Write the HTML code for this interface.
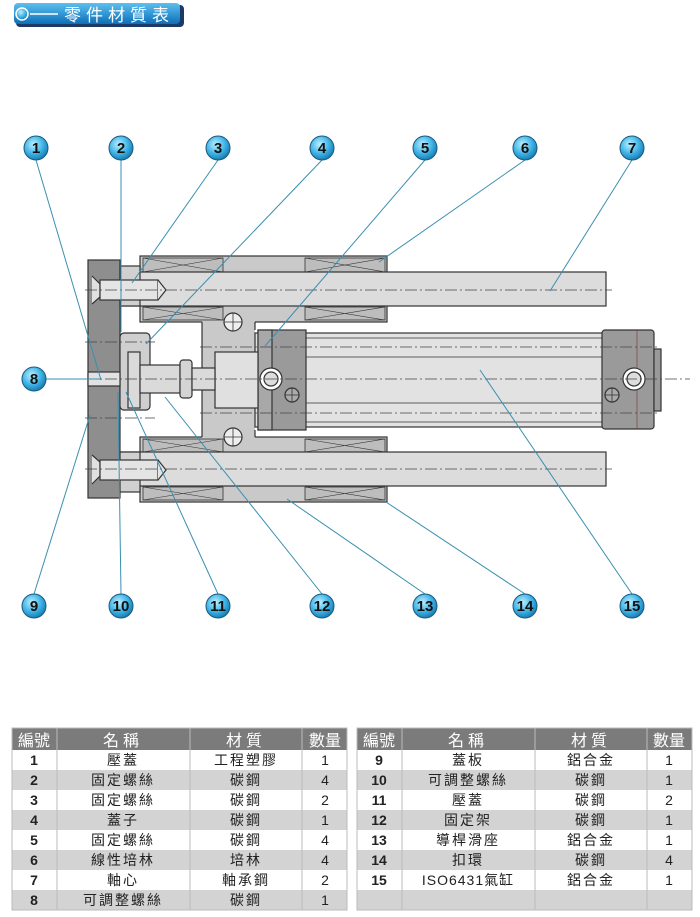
<!DOCTYPE html>
<html><head><meta charset="utf-8"><style>
html,body{margin:0;padding:0;background:#fff;}
svg{display:block;}
text{font-family:"Liberation Sans","Noto Sans CJK TC",sans-serif;}
</style></head><body>
<svg width="700" height="917" viewBox="0 0 700 917" xmlns="http://www.w3.org/2000/svg">
<defs>
<radialGradient id="bg" cx="40%" cy="35%" r="65%"><stop offset="0" stop-color="#bfefff"/><stop offset="0.6" stop-color="#3fb4e6"/><stop offset="1" stop-color="#1a7fb5"/></radialGradient>
<linearGradient id="hb" x1="0" y1="0" x2="0" y2="1"><stop offset="0" stop-color="#5cc0f0"/><stop offset="1" stop-color="#0d6fb8"/></linearGradient>
</defs>
<rect x="16" y="5" width="168" height="22" rx="4" fill="#1d3a66"/>
<rect x="14" y="3" width="166" height="21" rx="4" fill="url(#hb)"/>
<circle cx="22" cy="14" r="6" fill="url(#bg)" stroke="#fff" stroke-width="1.5"/>
<line x1="30" y1="14" x2="58" y2="14" stroke="#fff" stroke-width="1.5"/>
<text x="64" y="21" font-size="17" fill="#fff" letter-spacing="5">零件材質表</text>

<g stroke="#333" stroke-width="1.2">
<rect x="140" y="256" width="247" height="66" fill="#c9c9c9"/>
<rect x="140" y="437" width="247" height="65" fill="#c9c9c9"/>
<rect x="202" y="318" width="53" height="123" fill="#c9c9c9" stroke="none"/>
<line x1="202" y1="322" x2="202" y2="437"/><line x1="255" y1="322" x2="255" y2="330"/><line x1="255" y1="430" x2="255" y2="437"/>
<g fill="#bdbdbd" stroke-width="0.8">
<rect x="143" y="258" width="80" height="14"/><rect x="305" y="258" width="80" height="14"/>
<rect x="143" y="307" width="80" height="13"/><rect x="305" y="307" width="80" height="13"/>
<rect x="143" y="439" width="80" height="13"/><rect x="305" y="439" width="80" height="13"/>
<rect x="143" y="487" width="80" height="13"/><rect x="305" y="487" width="80" height="13"/>
</g>
<g stroke-width="0.6">
<path d="M143 258L223 272M143 272L223 258M305 258L385 272M305 272L385 258M143 307L223 320M143 320L223 307M305 307L385 320M305 320L385 307M143 439L223 452M143 452L223 439M305 439L385 452M305 452L385 439M143 487L223 500M143 500L223 487M305 487L385 500M305 500L385 487"/>
</g>
<rect x="115" y="272" width="491" height="34" fill="#dcdcdc"/>
<rect x="115" y="452" width="491" height="34" fill="#dcdcdc"/>
<rect x="255" y="333" width="350" height="94" fill="#e2e2e2"/>
<line x1="305" y1="338" x2="602" y2="338" stroke-width="0.7"/><line x1="305" y1="422" x2="602" y2="422" stroke-width="0.7"/>
<line x1="305" y1="357" x2="602" y2="357" stroke-width="0.7"/><line x1="305" y1="403" x2="602" y2="403" stroke-width="0.7"/>
<rect x="258" y="330" width="48" height="100" fill="#9a9a9a"/>
<rect x="258" y="330" width="14" height="100" fill="#a8a8a8"/>
<rect x="215" y="352" width="43" height="56" fill="#e0e0e0"/>
<rect x="602" y="330" width="52" height="99" rx="3" fill="#9a9a9a"/>
<rect x="654" y="349" width="7" height="62" fill="#9a9a9a"/>
<line x1="637" y1="330" x2="637" y2="429" stroke="#733" stroke-width="0.6"/>
<rect x="88" y="260" width="32" height="238" fill="#8e8e8e"/>
<rect x="120" y="266" width="20" height="40" fill="#d0d0d0"/>
<rect x="120" y="452" width="20" height="40" fill="#d0d0d0"/>
<path d="M92 276L100 284L100 297L92 304" fill="#e0e0e0"/>
<rect x="100" y="280" width="58" height="20" fill="#e4e4e4"/>
<path d="M158 280L166 290L158 300" fill="#e4e4e4"/>
<path d="M92 455L100 462L100 476L92 484" fill="#e0e0e0"/>
<rect x="100" y="460" width="58" height="20" fill="#e4e4e4"/>
<path d="M158 460L166 470L158 480" fill="#e4e4e4"/>
<rect x="120" y="333" width="30" height="77" rx="4" fill="#cfcfcf"/>
<rect x="88" y="372" width="32" height="14" fill="#e2e2e2"/>
<rect x="128" y="352" width="12" height="56" fill="#dadada"/>
<rect x="140" y="365" width="40" height="28" fill="#dadada"/>
<rect x="180" y="360" width="12" height="38" rx="3" fill="#d4d4d4"/>
<rect x="192" y="368" width="23" height="22" fill="#dadada"/>
<circle cx="233" cy="322" r="9" fill="#eee"/><path d="M224 322H242M233 313V331" stroke-width="0.8"/>
<circle cx="233" cy="437" r="9" fill="#eee"/><path d="M224 437H242M233 428V446" stroke-width="0.8"/>
<circle cx="271" cy="379" r="11" fill="#fff"/><circle cx="271" cy="379" r="7" fill="#ddd"/>
<circle cx="634" cy="379" r="11" fill="#fff"/><circle cx="634" cy="379" r="7" fill="#ddd"/>
<circle cx="292" cy="395" r="7" fill="#aaa"/><path d="M285 395H299M292 388V402" stroke-width="0.8"/>
<circle cx="612" cy="395" r="7" fill="#aaa"/><path d="M605 395H619M612 388V402" stroke-width="0.8"/>
</g>
<g stroke="#444" stroke-width="0.7" stroke-dasharray="12 3 2 3" fill="none">
<line x1="85" y1="290" x2="612" y2="290"/>
<line x1="85" y1="469" x2="612" y2="469"/>
<line x1="85" y1="379" x2="690" y2="379"/>
<line x1="85" y1="342" x2="155" y2="342"/><line x1="200" y1="347" x2="660" y2="347"/>
<line x1="85" y1="418" x2="155" y2="418"/><line x1="200" y1="413" x2="660" y2="413"/>
</g>
<g stroke="#3a8fb0" stroke-width="1" fill="none">
<path d="M36 160L101 380M121 160V332M218 160L132 283M322 160L146 344M425 160L265 346M525 160L379 262M632 160L550 291M46 379H100M34 594L90 415M121 594L118 392M218 594L126 392M322 594L165 397M425 594L287 499M525 594L386 502M632 594L480 370"/>
</g>
<g font-size="15" font-weight="bold" text-anchor="middle" fill="#111">
<g stroke="#1a5a80" stroke-width="1">
<circle cx="36" cy="148" r="12" fill="url(#bg)"/><circle cx="121" cy="148" r="12" fill="url(#bg)"/><circle cx="218" cy="148" r="12" fill="url(#bg)"/><circle cx="322" cy="148" r="12" fill="url(#bg)"/><circle cx="425" cy="148" r="12" fill="url(#bg)"/><circle cx="525" cy="148" r="12" fill="url(#bg)"/><circle cx="632" cy="148" r="12" fill="url(#bg)"/>
<circle cx="34" cy="379" r="12" fill="url(#bg)"/>
<circle cx="34" cy="606" r="12" fill="url(#bg)"/><circle cx="121" cy="606" r="12" fill="url(#bg)"/><circle cx="218" cy="606" r="12" fill="url(#bg)"/><circle cx="322" cy="606" r="12" fill="url(#bg)"/><circle cx="425" cy="606" r="12" fill="url(#bg)"/><circle cx="525" cy="606" r="12" fill="url(#bg)"/><circle cx="632" cy="606" r="12" fill="url(#bg)"/>
</g>
<text x="36" y="153">1</text><text x="121" y="153">2</text><text x="218" y="153">3</text><text x="322" y="153">4</text><text x="425" y="153">5</text><text x="525" y="153">6</text><text x="632" y="153">7</text>
<text x="34" y="384">8</text>
<text x="34" y="611">9</text><text x="121" y="611">10</text><text x="218" y="611">11</text><text x="322" y="611">12</text><text x="425" y="611">13</text><text x="525" y="611">14</text><text x="632" y="611">15</text>
</g>

<g>
<rect x="12" y="728" width="335" height="22" fill="#7b7b7b"/>
<rect x="357" y="728" width="335" height="22" fill="#7b7b7b"/>
<g fill="#d3d3d3">
<rect x="12" y="770" width="335" height="20"/><rect x="12" y="810" width="335" height="20"/><rect x="12" y="850" width="335" height="20"/><rect x="12" y="890" width="335" height="20"/>
<rect x="357" y="770" width="335" height="20"/><rect x="357" y="810" width="335" height="20"/><rect x="357" y="850" width="335" height="20"/><rect x="357" y="890" width="335" height="20"/>
</g>
<g stroke="#bbb" stroke-width="1">
<path d="M57 728V910M190 728V910M302 728V910M402 728V910M535 728V910M647 728V910"/>
<rect x="12" y="728" width="335" height="182" fill="none"/><rect x="357" y="728" width="335" height="182" fill="none"/>
</g>
<g font-size="16" fill="#fff" text-anchor="middle">
<text x="34" y="746">編號</text><text x="123" y="746" letter-spacing="4">名稱</text><text x="246" y="746" letter-spacing="4">材質</text><text x="325" y="746">數量</text>
<text x="379" y="746">編號</text><text x="468" y="746" letter-spacing="4">名稱</text><text x="591" y="746" letter-spacing="4">材質</text><text x="669" y="746">數量</text>
</g>
<g font-size="14" fill="#222" text-anchor="middle">
<g font-weight="bold"><text x="34" y="765">1</text><text x="34" y="785">2</text><text x="34" y="805">3</text><text x="34" y="825">4</text><text x="34" y="845">5</text><text x="34" y="865">6</text><text x="34" y="885">7</text><text x="34" y="905">8</text>
<text x="379" y="765">9</text><text x="379" y="785">10</text><text x="379" y="805">11</text><text x="379" y="825">12</text><text x="379" y="845">13</text><text x="379" y="865">14</text><text x="379" y="885">15</text></g>
<g letter-spacing="2">
<text x="123" y="765">壓蓋</text><text x="123" y="785">固定螺絲</text><text x="123" y="805">固定螺絲</text><text x="123" y="825">蓋子</text><text x="123" y="845">固定螺絲</text><text x="123" y="865">線性培林</text><text x="123" y="885">軸心</text><text x="123" y="905">可調整螺絲</text>
<text x="246" y="765">工程塑膠</text><text x="246" y="785">碳鋼</text><text x="246" y="805">碳鋼</text><text x="246" y="825">碳鋼</text><text x="246" y="845">碳鋼</text><text x="246" y="865">培林</text><text x="246" y="885">軸承鋼</text><text x="246" y="905">碳鋼</text>
<text x="468" y="765">蓋板</text><text x="468" y="785">可調整螺絲</text><text x="468" y="805">壓蓋</text><text x="468" y="825">固定架</text><text x="468" y="845">導桿滑座</text><text x="468" y="865">扣環</text><text x="468" y="885" letter-spacing="1">ISO6431氣缸</text>
<text x="591" y="765">鋁合金</text><text x="591" y="785">碳鋼</text><text x="591" y="805">碳鋼</text><text x="591" y="825">碳鋼</text><text x="591" y="845">鋁合金</text><text x="591" y="865">碳鋼</text><text x="591" y="885">鋁合金</text>
</g>
<text x="325" y="765">1</text><text x="325" y="785">4</text><text x="325" y="805">2</text><text x="325" y="825">1</text><text x="325" y="845">4</text><text x="325" y="865">4</text><text x="325" y="885">2</text><text x="325" y="905">1</text>
<text x="669" y="765">1</text><text x="669" y="785">1</text><text x="669" y="805">2</text><text x="669" y="825">1</text><text x="669" y="845">1</text><text x="669" y="865">4</text><text x="669" y="885">1</text>
</g>
</g>
</svg>
</body></html>
